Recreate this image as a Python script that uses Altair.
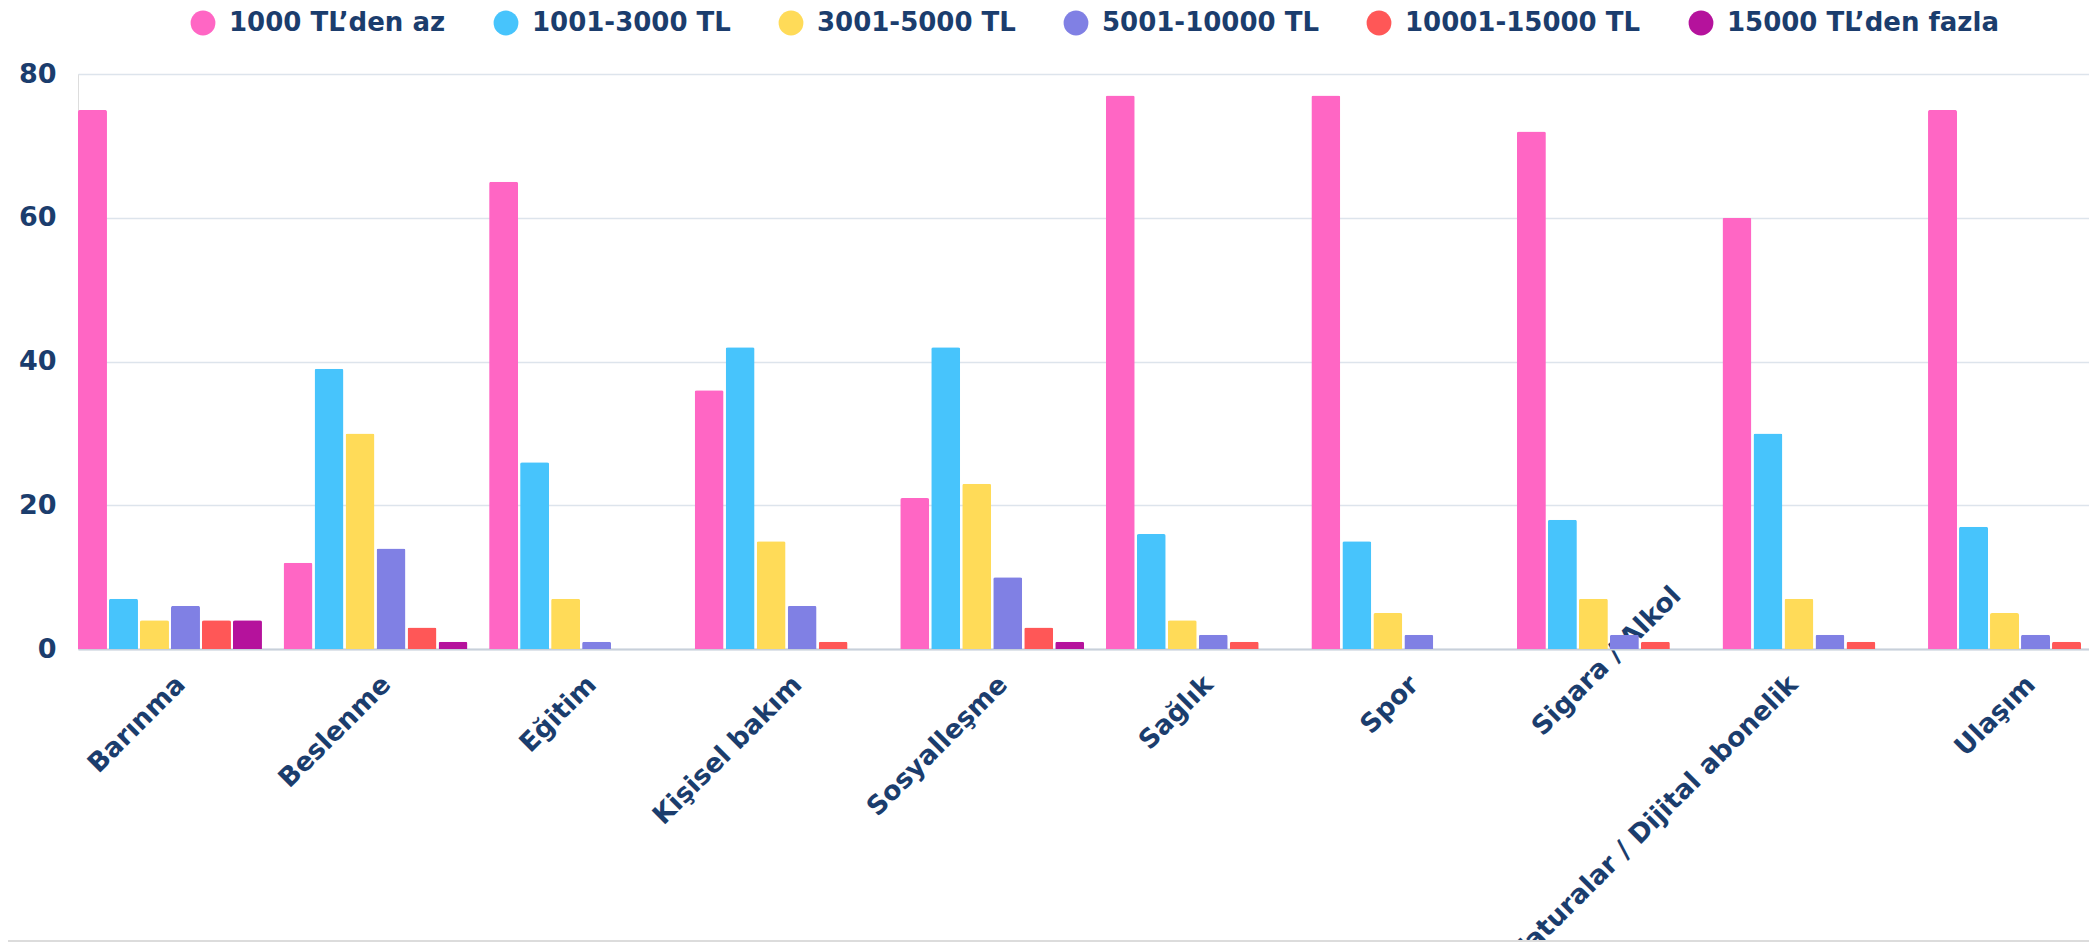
import altair as alt
import pandas as pd

categories = ["Barınma", "Beslenme", "Eğitim", "Kişisel bakım", "Sosyalleşme",
              "Sağlık", "Spor", "Sigara / Alkol", "Faturalar / Dijital abonelik", "Ulaşım"]
series = ["1000 TL’den az", "1001-3000 TL", "3001-5000 TL", "5001-10000 TL",
          "10001-15000 TL", "15000 TL’den fazla"]
colors = ["#ff66c4", "#47c4fc", "#ffdb58", "#8080e4", "#ff5757", "#b5129c"]

s_1000 = [75, 12, 65, 36, 21, 77, 77, 72, 60, 75]
s_3000 = [7, 39, 26, 42, 42, 16, 15, 18, 30, 17]
s_5000 = [4, 30, 7, 15, 23, 4, 5, 7, 7, 5]
s_10000 = [6, 14, 1, 6, 10, 2, 2, 2, 2, 2]
s_15000 = [4, 3, 0, 1, 3, 1, 0, 1, 1, 1]
s_more = [4, 1, 0, 0, 1, 0, 0, 0, 0, 0]
y_ticks = [0, 20, 40, 60, 80]

all_series = [s_1000, s_3000, s_5000, s_10000, s_15000, s_more]
rows = []
for name, vals in zip(series, all_series):
    for cat, v in zip(categories, vals):
        rows.append({"category": cat, "series": name, "value": v})
df = pd.DataFrame(rows)

navy = "#1b3d6d"
FONT = "DejaVu Sans"

SIG = "datum.value === 'Sigara / Alkol'"
FAT = "datum.value === 'Faturalar / Dijital abonelik'"

bars = alt.Chart(df).mark_bar(
    cornerRadiusTopLeft=2, cornerRadiusTopRight=2
).encode(
    x=alt.X(
        "category:N", sort=categories,
        scale=alt.Scale(range=[0, 2034], paddingInner=0.105, paddingOuter=0),
        axis=alt.Axis(
            title=None, labelAngle=-45, labelAlign="right", labelBaseline="middle",
            labelPadding={"condition": {"test": SIG, "value": -58}, "value": 31},
            labelOffset={"condition": [{"test": SIG, "value": 68},
                                       {"test": FAT, "value": -21}], "value": 11},
            ticks=False, domainColor="#c8d0da", domainWidth=2,
            labelFont=FONT, labelFontSize=26.5, labelFontWeight="bold", labelColor=navy,
            labelLimit=1000, labelOverlap=False, grid=False,
        ),
    ),
    xOffset=alt.XOffset("series:N", sort=series,
                        scale=alt.Scale(paddingInner=0.065, paddingOuter=0)),
    y=alt.Y(
        "value:Q", scale=alt.Scale(domain=[0, 80], nice=False),
        axis=alt.Axis(
            title=None, values=y_ticks, domain=False, ticks=False,
            labelFont=FONT, labelFontSize=27, labelFontWeight="bold", labelColor=navy,
            labelPadding=22, gridColor="#dde4ec", gridWidth=1.5,
        ),
    ),
    color=alt.Color(
        "series:N", sort=series,
        scale=alt.Scale(domain=series, range=colors),
        legend=alt.Legend(
            title=None, orient="none", legendX=112, legendY=-64, direction="horizontal",
            symbolType="circle", symbolSize=615, symbolStrokeWidth=0, symbolOpacity=1,
            labelFont=FONT, labelFontSize=26, labelFontWeight="bold", labelColor=navy,
            labelOffset=13, columnPadding=47, labelLimit=600,
        ),
    ),
)

base_line = alt.Chart(pd.DataFrame({"k": [0]})).mark_rule(
    color="#dcdcdc", strokeWidth=2
).encode(y=alt.value(867), x=alt.value(-78), x2=alt.value(2011))

chart = alt.layer(bars, base_line).properties(
    width=2011, height=575,
    autosize=alt.AutoSizeParams(type="none"),
    padding={"left": 70, "top": 66, "right": 0, "bottom": 293},
).configure_view(stroke=None).configure(background="white")

chart.save("out.html", embed_options={"renderer": "svg", "actions": False})
